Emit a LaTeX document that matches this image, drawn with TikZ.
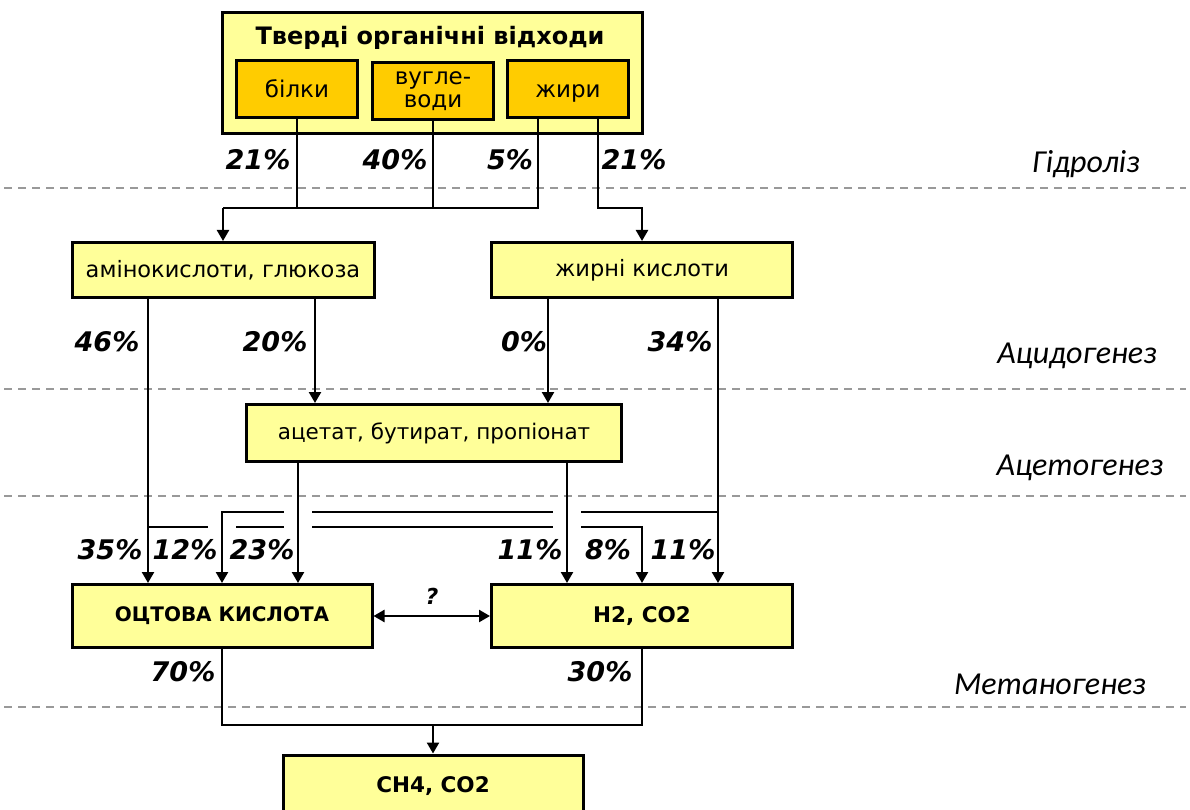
\documentclass[tikz,border=0pt]{standalone}
\usepackage{fontspec}
\setmainfont{DejaVu Sans}
\newfontfamily\stagefont{Carlito}
\usetikzlibrary{arrows.meta,calc}

\definecolor{paleyellow}{HTML}{FFFF99}
\definecolor{wastegold}{HTML}{FFCC00}

\tikzset{
  box/.style={draw,line width=3pt,fill=paleyellow,inner sep=0pt,font=\fontsize{22.5}{24}\selectfont},
  capbox/.style={box,font=\fontsize{21.5}{24}\selectfont\bfseries},
  subbox/.style={draw,line width=3pt,fill=wastegold,inner sep=0pt,minimum width=121pt,minimum height=57pt,
    align=center,font=\fontsize{23}{22.5}\selectfont},
  link/.style={line width=2.4pt},
  flow/.style={line width=2.4pt,-{Triangle[length=11pt,width=12pt]}},
  jumpgap/.style={white,line width=5pt},
  pct/.style={font=\fontsize{27}{30}\selectfont\bfseries\itshape},
  stage/.style={font=\stagefont\fontsize{32}{34}\selectfont\itshape},
  phase/.style={black!40,line width=1.5pt,dash pattern=on 8pt off 6pt},
}

\begin{document}
\begin{tikzpicture}[x=1pt,y=-1pt]
\useasboundingbox (0,0) rectangle (1190,810);

\draw[phase] (4,188) -- (1186,188);
\draw[phase] (4,389) -- (1186,389);
\draw[phase] (4,496) -- (1186,496);
\draw[phase] (4,707) -- (1186,707);

\node[stage] (hydrolysis) at (1086,164) {Гідроліз};
\node[stage] (acidogenesis) at (1077,356) {Ацидогенез};
\node[stage] (acetogenesis) at (1080,468) {Ацетогенез};
\node[stage] (methanogenesis) at (1050,684) {Метаногенез};

\node[box,minimum width=420pt,minimum height=121pt] (waste) at (432,73) {};
\node[font=\fontsize{24}{26}\selectfont\bfseries] (wastetitle) at (430,38) {Тверді органічні відходи};
\node[subbox,text height=17pt,text depth=0pt] (protein) at (297,89) {білки};
\node[subbox] (carbs) at (433,91) {вугле-\\води};
\node[subbox,text height=17pt,text depth=0pt] (fats) at (568,89) {жири};

\node[box,minimum width=302pt,minimum height=55pt] (amino) at (223,270) {амінокислоти, глюкоза};
\node[box,minimum width=301pt,minimum height=55pt] (fatty) at (642,270) {жирні кислоти};
\node[box,minimum width=375pt,minimum height=57pt,font=\fontsize{21.5}{24}\selectfont] (acids) at (434,433) {ацетат, бутират, пропіонат};
\node[capbox,minimum width=300pt,minimum height=63pt,font=\fontsize{20}{24}\selectfont\bfseries] (acetic) at (222,616) {ОЦТОВА КИСЛОТА};
\node[capbox,minimum width=301pt,minimum height=63pt] (hydro) at (642,616) {H2, CO2};
\node[capbox,minimum width=300pt,minimum height=62pt] (methane) at (433,786) {CH4, CO2};

\coordinate (hydlane) at (0,208);
\coordinate (fatsL) at ($(fats.south)+(-30,0)$);
\coordinate (fatsR) at ($(fats.south)+(30,0)$);
\draw[link] (fatsL) |- (amino.north |- hydlane);
\draw[link] (protein.south) -- (protein.south |- hydlane);
\draw[link] (carbs.south) -- (carbs.south |- hydlane);
\draw[flow] (amino.north |- hydlane) -- (amino.north);
\draw[flow] (fatsR) |- (fatty.north |- hydlane) -- (fatty.north);

\coordinate (la) at (148,0);
\coordinate (lb) at (315,0);
\coordinate (lc) at (548,0);
\coordinate (ld) at (718,0);
\coordinate (le) at (298,0);
\coordinate (lf) at (567,0);
\coordinate (upper) at (0,512);
\coordinate (lower) at (0,527);

\draw[flow] (la |- lower) -| (hydro.north);
\foreach \l in {acetic.north,le,lf}
  \draw[jumpgap] ($(\l |- lower)+(-14,0)$) -- ++(28,0);
\draw[flow] (ld |- upper) -| (acetic.north);
\foreach \l in {le,lf}
  \draw[jumpgap] ($(\l |- upper)+(-14,0)$) -- ++(28,0);

\draw[flow] (amino.south -| la) -- (acetic.north -| la);
\draw[flow] (amino.south -| lb) -- (acids.north -| lb);
\draw[flow] (fatty.south -| lc) -- (acids.north -| lc);
\draw[flow] (fatty.south -| ld) -- (hydro.north -| ld);
\draw[flow] (acids.south -| le) -- (acetic.north -| le);
\draw[flow] (acids.south -| lf) -- (hydro.north -| lf);

\draw[flow,{Triangle[length=11pt,width=12pt]}-{Triangle[length=11pt,width=12pt]}] (acetic.east) -- (hydro.west);
\node[font=\fontsize{22}{24}\selectfont\bfseries\itshape] (unknown) at (432,596) {?};

\coordinate (base) at (0,725);
\draw[link] (acetic.south) |- (hydro.south |- base) -- (hydro.south);
\draw[flow] (methane.north |- base) -- (methane.north);

\node[pct] (p1) at (258,160) {21\%};
\node[pct] (p2) at (395,160) {40\%};
\node[pct] (p3) at (510,160) {5\%};
\node[pct] (p4) at (634,160) {21\%};
\node[pct] (p5) at (107,342) {46\%};
\node[pct] (p6) at (275,342) {20\%};
\node[pct] (p7) at (524,342) {0\%};
\node[pct] (p8) at (680,342) {34\%};
\node[pct] (p9) at (110,550) {35\%};
\node[pct] (p10) at (185,550) {12\%};
\node[pct] (p11) at (262,550) {23\%};
\node[pct] (p12) at (530,550) {11\%};
\node[pct] (p13) at (608,550) {8\%};
\node[pct] (p14) at (683,550) {11\%};
\node[pct] (p15) at (183,672) {70\%};
\node[pct] (p16) at (600,672) {30\%};
\end{tikzpicture}
\end{document}
